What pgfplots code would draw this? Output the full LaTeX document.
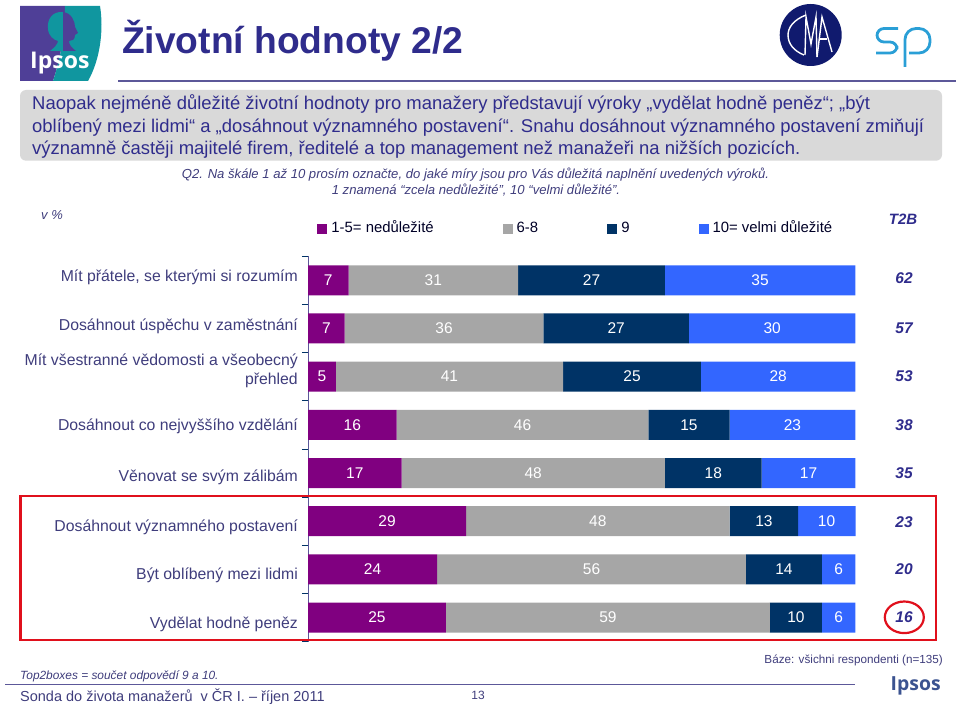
\documentclass[border=0pt]{standalone}
\usepackage{fontspec}
\setmainfont{Liberation Sans}
\newfontfamily\logofont{Open Sans}
\usepackage{pgfplots}
\usepackage{pgfplotstable}
\pgfplotsset{compat=1.18}
\definecolor{cPurple}{HTML}{800080}
\definecolor{cGray}{HTML}{A6A6A6}
\definecolor{cNavy}{HTML}{003366}
\definecolor{cBlue}{HTML}{3366FF}
\definecolor{cInk}{HTML}{3F3D7C}
\definecolor{cHead}{HTML}{2F2C8C}
\definecolor{cRule}{HTML}{5C5899}
\definecolor{cRed}{HTML}{E0101C}
\definecolor{cBox}{HTML}{D9D9D9}
\definecolor{cLogoP}{HTML}{4F3F97}
\definecolor{cLogoT}{HTML}{10969F}
\definecolor{cCMA}{HTML}{101A6E}
\definecolor{cSP}{HTML}{2A9FD6}
\definecolor{cIps}{HTML}{3B5390}
\pgfplotstableread{
a b c d
7.4 31.0 26.8 34.8
6.7 36.3 26.6 30.4
5.1 41.5 25.2 28.2
16.2 46.0 14.85 22.95
17.1 48.1 17.7 17.1
28.9 48.15 12.5 10.5
23.6 56.4 13.9 6.1
25.2 59.2 9.5 6.1
}\segments
\pgfplotstableread{
x y label
3.7 0 7
22.9 0 31
51.8 0 27
82.6 0 35
3.35 1 7
24.85 1 36
56.3 1 27
84.8 1 30
2.55 2 5
25.85 2 41
59.2 2 25
85.9 2 28
8.1 3 16
39.2 3 46
69.6 3 15
88.5 3 23
8.55 4 17
41.15 4 48
74.05 4 18
91.45 4 17
14.45 5 29
52.95 5 48
83.3 5 13
94.75 5 10
11.8 6 24
51.8 6 56
86.95 6 14
96.95 6 6
12.6 7 25
54.8 7 59
89.15 7 10
96.95 7 6
}\barlabels
\pgfplotstableread{
x y label
108.9 -0.05 62
108.9 1 57
108.9 1.98 53
108.9 3 38
108.9 4 35
108.9 5.03 23
108.9 6 20
108.9 7 16
}\tbb
\pgfplotstableread{
r
0
1
2
3
4
5
6
7
}\rows
\pgfplotstablecreatecol[copy column from table={\rows}{r}]{r}{\segments}
\begin{document}
\begin{tikzpicture}[x=1pt,y=-1pt]
\path[use as bounding box] (0,0) rectangle (960,706);
% Ipsos logo
\fill[cLogoP] (20,6) -- (65,6) .. controls (65,35) and (60,60) .. (53,81) -- (20,81) -- cycle;
\fill[cLogoT] (65,6) -- (100,6) .. controls (104,30) and (100,60) .. (88,81) -- (53,81) .. controls (60,60) and (65,35) .. (65,6) -- cycle;
\fill[cLogoT] (63,12) .. controls (52,11) and (47,20) .. (48,28) .. controls (48,36) and (54,40) .. (58,41) .. controls (58,44) and (54,48) .. (50,51) -- (63,51) -- cycle;
\fill[cLogoP] (63,12) .. controls (72,13) and (75,22) .. (75,27) -- (78,33) -- (75,35) .. controls (75,40) and (72,41) .. (69,41) .. controls (69,45) and (72,48) .. (76,51) -- (63,51) -- cycle;
\node[anchor=base west,inner sep=0pt,text=white,font=\logofont\bfseries\fontsize{23}{23}\selectfont] at (30,68.5) {Ipsos};
% CMA logo
\fill[cCMA] (810.7,35) circle (31);
\draw[white,line width=1.4pt] (806,15) .. controls (793,20) and (788,28) .. (788,35) .. controls (788,44) and (794,51) .. (804,55);
\draw[white,line width=1.4pt] (805,55) -- (806,17) -- (811,44) -- (816,17) -- (817,57);
\draw[white,line width=1.4pt] (817,57) -- (822,17) -- (832,52);
\draw[white,line width=1.4pt] (819,39) -- (827,39);
% sp logo
\draw[cSP,line width=2.8pt,rounded corners=7pt] (898,28.5) -- (877,28.5) -- (877,42) -- (897,42) -- (897,53) -- (876,53);
\draw[cSP,line width=2.8pt,rounded corners=11pt] (905,67) -- (905,28.5) -- (930,28.5) -- (930,53) -- (909,53);
% title and rules
\node[anchor=base west,inner sep=0pt,text=cHead,font=\bfseries\fontsize{37.2}{40}\selectfont] at (122,54) {Životní hodnoty 2/2};
\draw[cRule,line width=1.8pt] (118,81) -- (956,81);
\fill[cBox,rounded corners=6pt] (20,90) rectangle (942,160.7);
\begin{scope}[every node/.style={anchor=base west,inner sep=0pt,text=cHead,font=\fontsize{18.45}{20}\selectfont}]
\node at (32,110) {Naopak nejméně důležité životní hodnoty pro manažery představují výroky „vydělat hodně peněz“; „být};
\node at (32,132) {oblíbený mezi lidmi“ a „dosáhnout významného postavení“. Snahu dosáhnout významného postavení zmiňují};
\node at (32,154) {významně častěji majitelé firem, ředitelé a top management než manažeři na nižších pozicích.};
\end{scope}
\begin{scope}[every node/.style={anchor=base,inner sep=0pt,text=cInk,font=\itshape\fontsize{13.1}{15}\selectfont}]
\node at (475.5,178) {Q2. Na škále 1 až 10 prosím označte, do jaké míry jsou pro Vás důležitá naplnění uvedených výroků.};
\node at (476,194) {1 znamená “zcela nedůležité”, 10 “velmi důležité”.};
\end{scope}
\node[anchor=base west,inner sep=0pt,text=cInk,font=\itshape\fontsize{13}{15}\selectfont] at (41,219) {v \%};
\node[anchor=base,inner sep=0pt,text=cHead,font=\bfseries\itshape\fontsize{15}{15}\selectfont] at (903,224) {T2B};
% chart
\begin{axis}[
  at={(308pt,-641.6pt)},anchor=south west,
  scale only axis,width=547.3pt,height=385.4pt,
  xmin=0,xmax=100,ymin=-0.5,ymax=7.5,y dir=reverse,
  xbar stacked,bar width=30pt,clip=false,
  axis x line=none,axis y line=left,
  y axis line style={-,color=cRule,line width=1pt},
  ytick={-0.06,0.95,1.875,3.03,4.1,5.12,6.12,7.15},
  yticklabels={{Mít přátele, se kterými si rozumím},{Dosáhnout úspěchu v zaměstnání},{Mít všestranné vědomosti a všeobecný\\přehled},{Dosáhnout co nejvyššího vzdělání},{Věnovat se svým zálibám},{Dosáhnout významného postavení},{Být oblíbený mezi lidmi},{Vydělat hodně peněz}},
  major tick length=0pt,
  yticklabel style={align=right,anchor=east,inner sep=0pt,xshift=-10pt,text=cInk,font=\fontsize{15.8}{19}\selectfont},
  extra y ticks={-0.5,0.5,1.5,2.5,3.5,4.5,5.5,6.5,7.5},
  extra y tick labels={},
  extra tick style={major tick length=6pt,tick align=outside,tick style={color=cNavy,line width=0.8pt}},
  legend columns=4,
  legend cell align=left,
  legend style={at={(0.4875,1.071)},anchor=center,draw=none,fill=none,inner sep=0pt,
    nodes={inner sep=0pt,text height=11pt,text depth=3pt},
    font=\fontsize{14.9}{16}\selectfont,text=black!85!blue,
    /tikz/every even column/.append style={column sep=69pt},
    /tikz/every odd column/.append style={column sep=4pt}},
  legend image code/.code={\fill[#1] (0pt,-5pt) rectangle (10pt,5pt);},
]
\addplot[fill=cPurple,draw=none] table[x=a,y=r]{\segments};
\addplot[fill=cGray,draw=none] table[x=b,y=r]{\segments};
\addplot[fill=cNavy,draw=none] table[x=c,y=r]{\segments};
\addplot[fill=cBlue,draw=none] table[x=d,y=r]{\segments};
\legend{1-5= nedůležité,6-8,9,10= velmi důležité}
\end{axis}
\begin{axis}[
  at={(308pt,-641.6pt)},anchor=south west,
  scale only axis,width=547.3pt,height=385.4pt,
  xmin=0,xmax=100,ymin=-0.5,ymax=7.5,y dir=reverse,
  hide axis,clip=false,
]
\addplot[only marks,mark=none,point meta=explicit symbolic,nodes near coords,
  nodes near coords style={anchor=center,inner sep=0pt,text=white,font=\fontsize{15.5}{15.5}\selectfont}]
  table[x=x,y=y,meta=label]{\barlabels};
\addplot[only marks,mark=none,point meta=explicit symbolic,nodes near coords,
  nodes near coords style={anchor=center,inner sep=0pt,text=cHead,font=\bfseries\itshape\fontsize{15.5}{15.5}\selectfont}]
  table[x=x,y=y,meta=label]{\tbb};
\end{axis}
% highlights
\draw[cRed,line width=2.2pt] (20.5,495.7) rectangle (935.7,640);
\draw[cRed,line width=2.2pt] (904.3,617.3) ellipse (19.5 and 15.8);
% footer
\node[anchor=base west,inner sep=0pt,text=cInk,font=\itshape\fontsize{11.9}{14}\selectfont] at (20,679.5) {Top2boxes = součet odpovědí 9 a 10.};
\draw[cRule,line width=1pt] (5,684.7) -- (855,684.7);
\node[anchor=base west,inner sep=0pt,text=cInk,font=\fontsize{14.5}{18}\selectfont] at (20,701.7) {Sonda do života manažerů\ \ v ČR I. – říjen 2011};
\node[anchor=base,inner sep=0pt,text=cInk,font=\fontsize{12}{14}\selectfont] at (478,699) {13};
\node[anchor=base east,inner sep=0pt,text=cInk,font=\fontsize{11.7}{14}\selectfont] at (943,663) {Báze: všichni respondenti (n=135)};
\node[anchor=base west,inner sep=0pt,text=cIps,font=\logofont\bfseries\fontsize{19.4}{22}\selectfont] at (890.5,690.7) {Ipsos};
\end{tikzpicture}
\end{document}
